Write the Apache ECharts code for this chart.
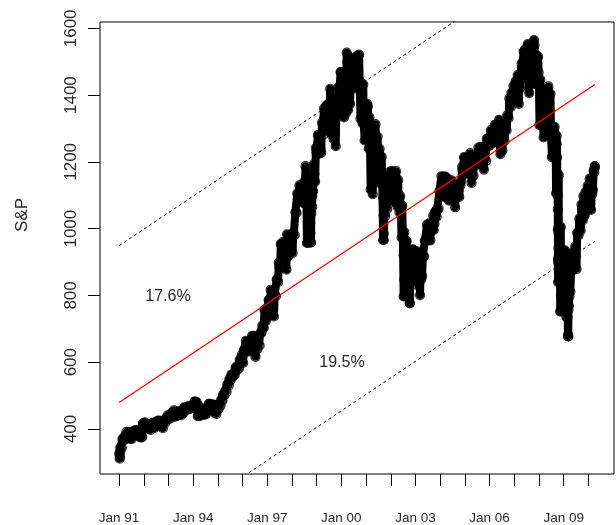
<!DOCTYPE html>
<html>
<head>
<meta charset="utf-8">
<script src="https://cdn.jsdelivr.net/npm/echarts@6/dist/echarts.min.js"></script>
<style>
html,body{margin:0;padding:0;background:#fff;}
#c{width:616px;height:525px;}
</style>
</head>
<body>
<div id="c"></div>
<script>
// ---- Data (S&P index, Jan 1991 - Apr 2010) ----
const firstYear = 1991;          // monthly arrays start Jan 1991, end Mar 2010
const monthlyLows = [
311,343,365,371,372,371,370,380,384,380,375,376,
408,407,400,397,410,403,408,410,414,402,417,429,
429,433,444,437,439,442,441,448,456,458,460,462,
465,464,438,438,444,442,444,457,457,455,449,445,
459,470,485,501,511,530,547,556,563,576,582,605,
598,633,633,632,642,662,616,640,650,690,703,723,
737,773,757,737,798,840,891,899,899,877,920,932,
927,981,1047,1086,1090,1077,1112,957,973,959,1112,1141,
1225,1225,1228,1282,1294,1294,1328,1281,1268,1247,1347,1389,
1360,1333,1346,1356,1374,1431,1420,1438,1426,1329,1315,1264,
1284,1240,1117,1103,1239,1208,1178,1134,966,1038,1059,1124,
1100,1080,1127,1066,1049,973,797,834,815,777,876,880,
844,829,801,858,917,964,965,965,996,1015,1035,1061,
1108,1128,1094,1107,1084,1123,1084,1064,1104,1095,1143,1174,
1164,1184,1172,1137,1159,1191,1194,1208,1208,1177,1203,1248,
1262,1255,1272,1286,1256,1223,1234,1263,1294,1331,1364,1396,
1403,1399,1374,1425,1486,1490,1455,1406,1451,1500,1433,1445,
1310,1326,1273,1325,1375,1278,1214,1249,1106,840,752,816,
805,735,677,811,880,893,879,980,994,1025,1043,1087,
1073,1056,1116
];
const monthlyHighs = [
344,370,376,391,390,389,390,396,396,395,397,417,
420,415,413,416,419,418,424,425,423,419,431,441,
440,449,456,450,453,453,451,464,463,468,468,471,
482,481,470,453,458,462,459,475,474,473,472,462,
472,488,503,515,533,549,563,565,584,590,608,622,
636,664,660,657,679,679,676,666,687,710,757,761,
786,817,814,801,848,898,954,960,960,983,959,983,
987,1049,1105,1130,1122,1138,1187,1121,1066,1099,1193,1242,
1280,1275,1317,1360,1368,1373,1419,1363,1357,1363,1424,1469,
1465,1441,1527,1516,1481,1479,1510,1517,1521,1437,1432,1372,
1373,1333,1241,1255,1313,1276,1239,1215,1133,1104,1151,1171,
1173,1123,1172,1146,1098,1068,990,962,917,900,938,934,
932,853,895,919,964,1011,1016,1008,1039,1051,1059,1112,
1157,1156,1156,1150,1124,1145,1129,1105,1129,1135,1185,1214,
1211,1211,1226,1192,1200,1217,1243,1245,1237,1226,1269,1273,
1295,1293,1311,1312,1326,1290,1280,1304,1339,1390,1407,1427,
1441,1460,1440,1495,1531,1539,1553,1497,1531,1565,1520,1515,
1447,1395,1336,1397,1426,1404,1285,1305,1278,1161,1005,913,
935,870,816,875,930,946,987,1030,1072,1098,1110,1128,
1150,1110,1174
];
const monthlyCloses = [
344,367,375,375,390,371,388,395,388,392,375,417,
409,413,404,415,415,408,424,414,418,419,431,436,
439,443,452,440,450,451,448,464,459,468,462,466,
482,467,446,451,457,444,458,475,463,472,454,459,
470,487,501,515,533,545,562,562,584,582,605,616,
636,640,646,654,669,671,640,652,687,705,757,741,
786,791,757,801,848,885,954,899,947,915,955,970,
980,1049,1102,1112,1091,1134,1121,957,1017,1099,1164,1229,
1280,1238,1286,1335,1302,1373,1329,1320,1283,1363,1389,1469,
1394,1366,1499,1452,1421,1455,1431,1518,1437,1429,1315,1320,
1366,1240,1160,1249,1256,1224,1211,1134,1041,1060,1139,1148,
1130,1107,1147,1077,1067,990,912,916,815,886,936,880,
856,841,848,917,964,975,990,1008,996,1051,1058,1112,
1131,1145,1126,1107,1121,1141,1102,1104,1115,1130,1174,1212,
1181,1204,1181,1157,1192,1191,1234,1220,1229,1207,1249,1248,
1280,1281,1295,1311,1270,1270,1277,1304,1336,1378,1401,1418,
1438,1407,1421,1482,1531,1503,1455,1474,1527,1549,1481,1468,
1379,1331,1323,1386,1400,1280,1267,1283,1166,969,896,903,
826,735,798,873,919,919,987,1021,1057,1036,1096,1115,
1074,1104,1169
];
// extra readings in volatile stretches and at both ends
const extraDates = [
'1991-01-02','1991-01-16','1991-01-18',
'1998-08-04','1998-08-27','1998-09-01','1998-09-08','1998-09-10','1998-09-23','1998-10-01','1998-10-08','1998-10-15','1998-10-27',
'2001-09-10','2001-09-17','2001-09-20','2001-09-21',
'2002-07-10','2002-07-19','2002-07-23','2002-07-29','2002-08-05','2002-08-22','2002-10-04','2002-10-09','2002-10-15','2002-10-21',
'2008-09-05','2008-09-12','2008-09-19','2008-09-26','2008-09-29','2008-10-03','2008-10-06','2008-10-07','2008-10-09','2008-10-10','2008-10-13','2008-10-15','2008-10-17','2008-10-20','2008-10-22','2008-10-24','2008-10-27','2008-10-28',
'2008-11-07','2008-11-14','2008-11-20','2008-11-21','2008-12-05','2008-12-12','2008-12-19','2008-12-26',
'2009-01-02','2009-01-09','2009-01-16','2009-01-23','2009-02-06','2009-02-13','2009-02-20','2009-03-06','2009-03-09','2009-03-13','2009-03-20','2009-03-27',
'2010-04-01','2010-04-05','2010-04-08'
];
const extraVals = [
326,316,332,
1072,1043,994,1023,980,1066,986,959,1047,1065,
1093,1039,985,966,
920,848,798,899,835,963,801,777,881,900,
1242,1252,1255,1213,1106,1099,1057,996,910,899,1003,908,941,985,897,877,849,941,
931,873,752,800,876,880,888,873,
932,890,850,832,869,827,770,683,677,757,769,816,
1178,1187,1186
];
// fitted trend and +/- band
const trendDates = ['1991-01-02','2010-04-08'];
const trendVals = [479, 1432];
const upperVals = [949, 1902];
const lowerVals = [9, 962];
// axis ticks and labels
const yTicks = [400,600,800,1000,1200,1400,1600];
const xTickYears = [1991,1992,1993,1994,1995,1996,1997,1998,1999,2000,2001,2002,2003,2004,2005,2006,2007,2008,2009,2010];
const xLabelYears = [1991,1994,1997,2000,2003,2006,2009];
const xTickLabels = ['Jan 91','Jan 94','Jan 97','Jan 00','Jan 03','Jan 06','Jan 09'];
const yTitle = 'S&P';
const annotations = [{text:'17.6%', x:168, y:297}, {text:'19.5%', x:342, y:363}];

// ---- build ----
function t(y, m, dd){ return Date.UTC(y, m, dd); }
function d(s){ const p = s.split('-').map(Number); return t(p[0], p[1]-1, p[2]); }
const pts = [];
for (let i = 0; i < monthlyCloses.length; i++) {
  const yr = firstYear + Math.floor(i / 12), mo = i % 12;
  pts.push([t(yr, mo, 10), monthlyLows[i]]);
  pts.push([t(yr, mo, 20), monthlyHighs[i]]);
  pts.push([t(yr, mo, 28), monthlyCloses[i]]);
}
for (let i = 0; i < extraDates.length; i++) pts.push([d(extraDates[i]), extraVals[i]]);
pts.sort((a,b)=>a[0]-b[0]);
const trendData = trendDates.map((s,i)=>[d(s), trendVals[i]]);
const upperData = trendDates.map((s,i)=>[d(s), upperVals[i]]);
const lowerData = trendDates.map((s,i)=>[d(s), lowerVals[i]]);
const labelMap = {};
xLabelYears.forEach((y,i)=>{ labelMap[t(y,0,1)] = xTickLabels[i]; });

const FONT = '"Liberation Sans", Arial, sans-serif';
const TXT = '#262626';
const chart = echarts.init(document.getElementById('c'), null, {renderer:'canvas'});
chart.setOption({
  animation: false,
  backgroundColor: '#fff',
  grid: {left:100, right:2, top:22, bottom:51, show:true, borderColor:'#000', borderWidth:1, containLabel:false},
  xAxis: {
    type:'value',
    min: t(1990,2,25),
    max: t(2011,0,15),
    scale: true,
    axisLine:{show:false},
    splitLine:{show:false},
    axisTick:{show:true, length:12, lineStyle:{color:'#000', width:1}, customValues: xTickYears.map(y=>t(y,0,1))},
    axisLabel:{
      customValues: xLabelYears.map(y=>t(y,0,1)),
      formatter: function(v){ return labelMap[v] || ''; },
      margin: 37, fontSize: 13.5, color:TXT, fontFamily: FONT
    }
  },
  yAxis: {
    type:'value', min:265, max:1619,
    axisLine:{show:false},
    splitLine:{show:false},
    axisTick:{show:true, length:12, lineStyle:{color:'#000', width:1}, customValues: yTicks},
    axisLabel:{customValues: yTicks, rotate:90, margin:20, fontSize:17, color:TXT, fontFamily: FONT,
      formatter: function(v){ return String(v); }}
  },
  graphic: [
    {type:'text', x:22, y:215, rotation:Math.PI/2, style:{text:yTitle, font:'17px '+FONT, fill:TXT, textAlign:'center', textVerticalAlign:'middle'}}
  ].concat(annotations.map(a=>({type:'text', x:a.x, y:a.y, style:{text:a.text, font:'16px '+FONT, fill:TXT, textAlign:'center', textVerticalAlign:'middle'}}))),
  series: [
    {type:'line', data: pts, showSymbol:false, silent:true, z:1,
     lineStyle:{color:'#000', width:8, cap:'round', join:'round'}},
    {type:'scatter', data: pts, symbol:'circle', symbolSize:9, z:2,
     itemStyle:{color:'rgba(0,0,0,0)', borderColor:'#000', borderWidth:1.2}, silent:true},
    {type:'line', data: trendData, showSymbol:false, lineStyle:{color:'#ff0000', width:1.3}, silent:true, z:3},
    {type:'line', data: upperData, showSymbol:false, lineStyle:{color:'#000', width:1, type:[3,3]}, silent:true, clip:true},
    {type:'line', data: lowerData, showSymbol:false, lineStyle:{color:'#000', width:1, type:[3,3]}, silent:true, clip:true}
  ]
});
</script>
</body>
</html>
